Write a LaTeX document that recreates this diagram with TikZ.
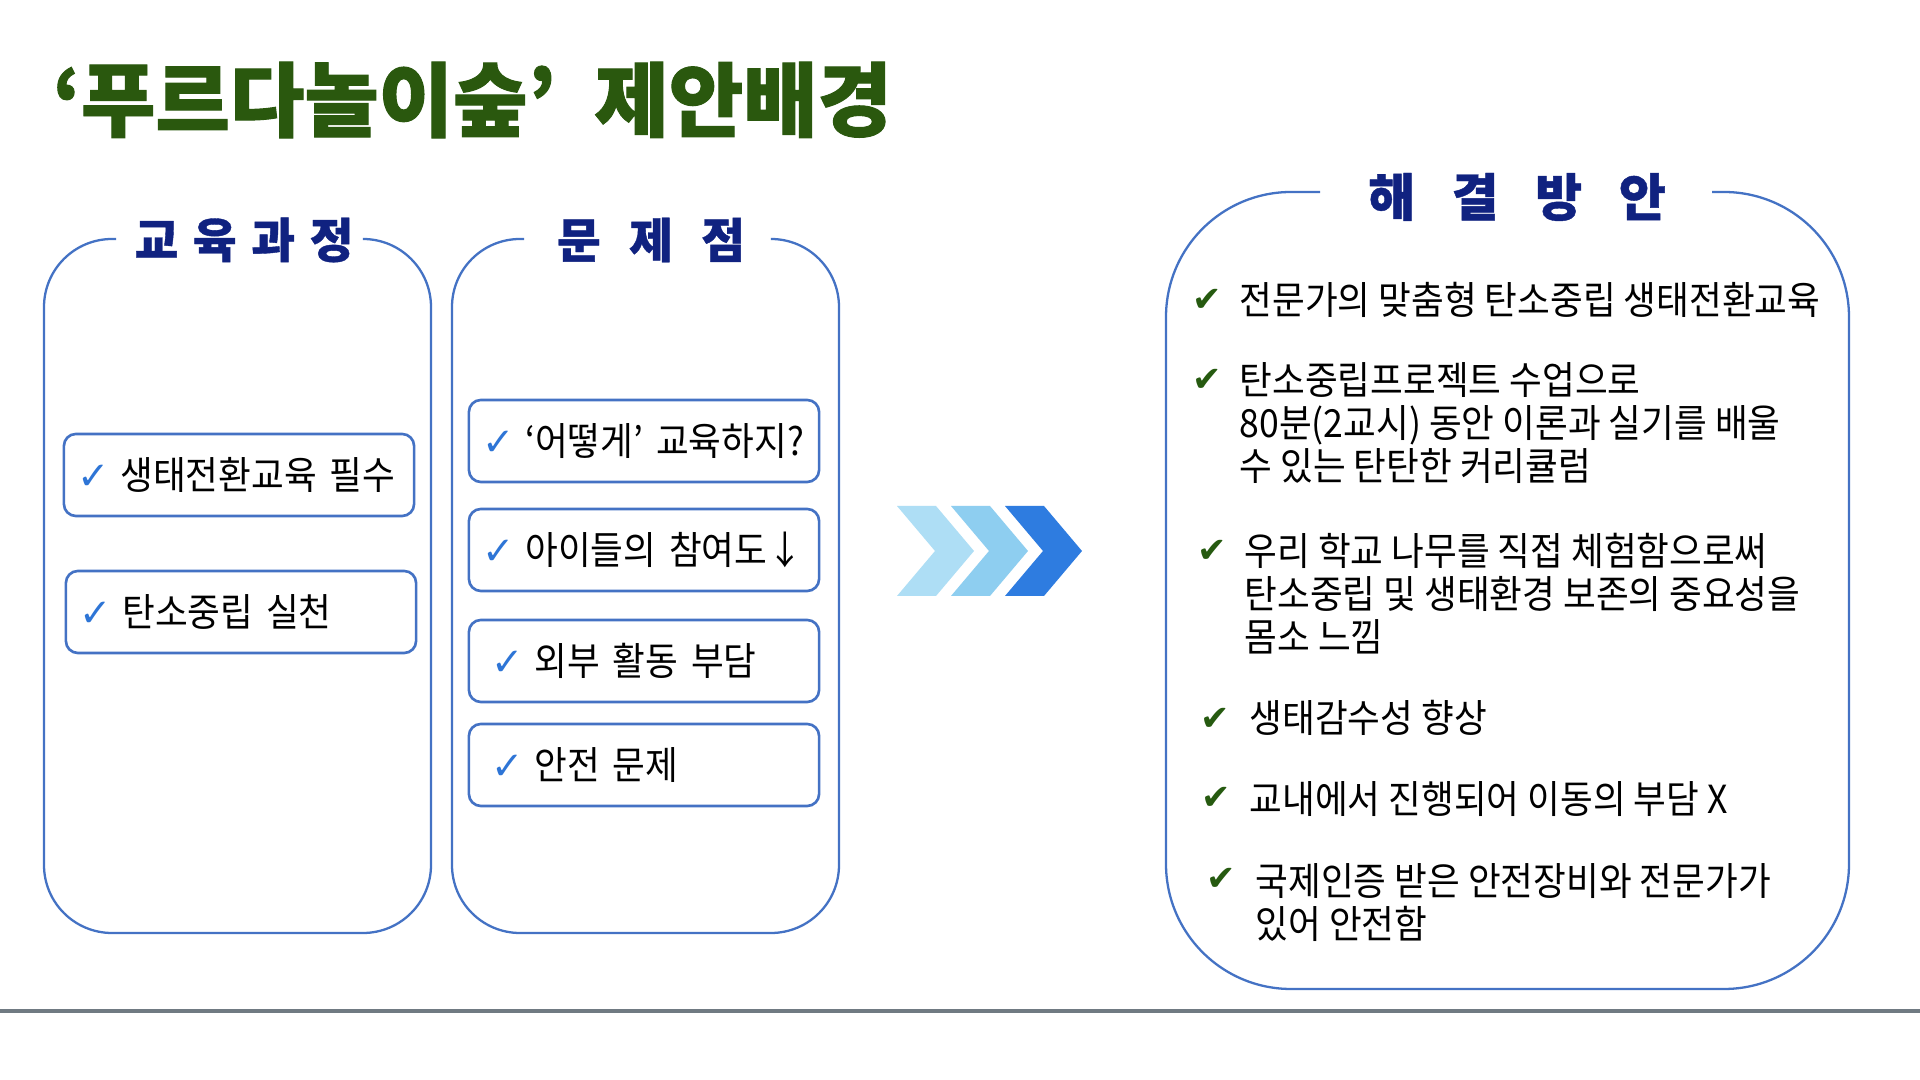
\documentclass[tikz,border=0pt]{standalone}
\usepackage{fontspec}
\usepackage{xcolor}
\usepackage{tikz}
\usetikzlibrary{positioning}
\newfontfamily\krbody[FakeStretch=0.92]{Noto Sans CJK KR}
\newfontfamily\krhead[FakeBold=0.8]{Noto Sans CJK KR}
\newfontfamily\krtitle[FakeBold=1.2]{Noto Sans CJK KR}
\newfontfamily\symfont{DejaVu Sans}
\definecolor{titleGreen}{RGB}{42,88,14}
\definecolor{headNavy}{RGB}{16,34,128}
\definecolor{frameBlue}{RGB}{68,114,196}
\definecolor{checkBlue}{RGB}{46,117,214}
\definecolor{checkGreen}{RGB}{38,90,16}
\definecolor{chevLight}{RGB}{174,222,245}
\definecolor{chevMid}{RGB}{142,206,240}
\definecolor{chevDark}{RGB}{46,124,224}
\definecolor{ruleGray}{RGB}{112,122,130}
\newcommand{\bchk}{{\symfont\fontsize{11}{11}\selectfont\color{checkBlue}✓}\hspace{0.1cm}}
\newcommand{\pchk}{\hspace{0.09cm}\bchk}

\begin{document}
\begin{tikzpicture}[x=0.01cm,y=-0.01cm,
    frame/.style={draw=frameBlue,line width=0.65pt,rounded corners=0.68cm},
    itembox/.style={draw=frameBlue,line width=0.75pt,rounded corners=0.12cm,
      text width=3.22cm,inner xsep=0.14cm,minimum height=0.82cm,align=left,
      font=\krbody\fontsize{11}{13}\selectfont},
    heading/.style={text=headNavy,inner sep=0pt,font=\krhead\bfseries\fontsize{13.5}{15}\selectfont},
    gcheck/.style={text=checkGreen,inner sep=0pt,font=\symfont\fontsize{10}{10}\selectfont},
    item/.style={anchor=north west,align=left,inner sep=0pt,
      font=\krbody\fontsize{11}{12.2}\selectfont}]
  \fill[white] (0,0) rectangle (1920,1080);
  \useasboundingbox (0,0) rectangle (1920,1080);

  % Title
  \node[anchor=west,inner sep=0pt,text=titleGreen,
    font=\krtitle\bfseries\fontsize{23}{26}\selectfont] (title) at (52,100)
    {‘푸르다놀이숲’\hspace{0.2cm} 제안배경};

  % Frames
  \draw[frame] (365,239) -- (431,239) -- (431,933) -- (44,933) -- (44,239) -- (116,239);
  \draw[frame] (773,239) -- (839,239) -- (839,933) -- (452,933) -- (452,239) -- (524,239);
  \draw[frame,rounded corners=1.25cm] (1712,192) -- (1849,192) -- (1849,989)
    -- (1166,989) -- (1166,192) -- (1320,192);

  % Headings
  \node[heading] (curr) at (244,240) {\addfontfeature{LetterSpace=31}교육과정};
  \node[heading] (prob) at (651,240) {\addfontfeature{LetterSpace=37}문 제 점};
  \node[heading,font=\krhead\bfseries\fontsize{14.5}{16}\selectfont] (solv) at (1517,197)
    {\addfontfeature{LetterSpace=49}해 결 방 안};

  % Curriculum
  \node[itembox] (curr1) at (239,475) {\bchk 생태전환교육 필수};
  \node[itembox] (curr2) at (241,612) {\bchk 탄소중립 실천};

  % Problems
  \node[itembox] (prob1) at (644,441) {\bchk ‘어떻게’ 교육하지?};
  \node[itembox] (prob2) at (644,550) {\bchk 아이들의 참여도↓};
  \node[itembox] (prob3) at (644,661) {\pchk 외부 활동 부담};
  \node[itembox] (prob4) at (644,765) {\pchk 안전 문제};

  % Chevrons
  \foreach \i/\col in {0/chevLight,1/chevMid,2/chevDark}
    \fill[\col] ({897+54*\i},506) -- ++(39,0) -- ++(38,45) -- ++(-38,45)
      -- ++(-39,0) -- ++(38,-45) -- cycle;

  % Solutions
  \node[gcheck] (chk1) at (1207,300) {✔};
  \node[item] (sol1) at (1239,282) {전문가의 맞춤형 탄소중립 생태전환교육};
  \node[gcheck] (chk2) at (1207,380) {✔};
  \node[item] (sol2) at (1239,362) {탄소중립프로젝트 수업으로\\80분(2교시) 동안 이론과 실기를 배울\\수 있는 탄탄한 커리큘럼};
  \node[gcheck] (chk3) at (1212,551) {✔};
  \node[item] (sol3) at (1244,533) {우리 학교 나무를 직접 체험함으로써\\탄소중립 및 생태환경 보존의 중요성을\\몸소 느낌};
  \node[gcheck] (chk4) at (1215,719) {✔};
  \node[item] (sol4) at (1249,700) {생태감수성 향상};
  \node[gcheck] (chk5) at (1216,798) {✔};
  \node[item] (sol5) at (1249,781) {교내에서 진행되어 이동의 부담 X};
  \node[gcheck] (chk6) at (1221,879) {✔};
  \node[item] (sol6) at (1255,863) {국제인증 받은 안전장비와 전문가가\\있어 안전함};

  % Bottom rule
  \draw[ruleGray,line width=1.2pt] (0,1011) -- (1920,1011);
\end{tikzpicture}
\end{document}
